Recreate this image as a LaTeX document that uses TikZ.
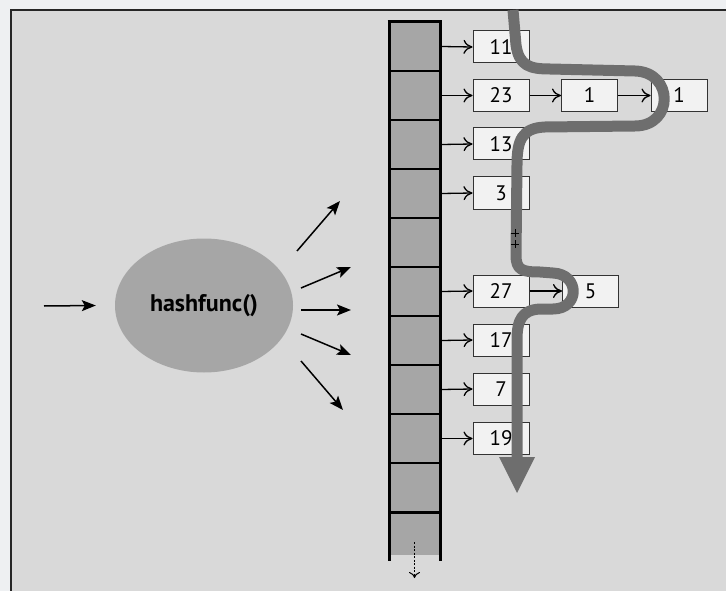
\documentclass[tikz,border=0pt]{standalone}
\usepackage{fontspec}
\setmainfont{PT Sans}
\usetikzlibrary{arrows.meta,shapes.geometric}
\definecolor{outerbg}{HTML}{EEF0F2}
\definecolor{panel}{HTML}{D9D9D9}
\definecolor{cellgray}{HTML}{A6A6A6}
\definecolor{boxfill}{HTML}{F2F2F2}
\definecolor{pathgray}{HTML}{6E6E6E}
\begin{document}
\begin{tikzpicture}[x=1pt,y=-1pt,
  cell/.style={rectangle,fill=cellgray,draw=black,line width=1.5pt,minimum width=51pt,minimum height=49pt,inner sep=0pt},
  lastcell/.style={rectangle,fill=cellgray,minimum width=51pt,minimum height=43pt,inner sep=0pt},
  keybox/.style={rectangle,fill=boxfill,draw=black!80,line width=1pt,minimum width=56pt,minimum height=32pt,inner sep=0pt,font=\fontsize{21}{25}\selectfont},
  ptr/.style={line width=1.3pt,-{To[length=9pt,width=14pt,line width=1.3pt]}},
  fan/.style={line width=1.5pt,-{Stealth[length=14pt,width=11pt,inset=3pt]}},
  wall/.style={line width=3pt,black}
]
\useasboundingbox (0,0) rectangle (726,591);
\fill[outerbg] (0,0) rectangle (726,591);
\fill[panel] (11,10) rectangle (726,591);
\draw[line width=2pt,black!85] (11,591) -- (11,10) -- (726,10);

% array cells
\foreach \i/\y in {1/46.5,2/95.5,3/144.5,4/193.5,5/242.5,6/291.5,7/340.5,8/389.5,9/438.5,10/487.5}
  \node[cell] (c\i) at (414.5,\y) {};
\node[lastcell] (c11) at (414.5,533.5) {};
\draw[line width=1.5pt] (c10.south west) -- (c10.south east);
\draw[wall] (389,22) -- (389,561);
\draw[wall] (440,22) -- (440,561);
\draw[wall] (387.5,22) -- (441.5,22);
\coordinate (dstart) at (414.5,542);
\coordinate (dend) at (414.5,578);
\draw[line width=1pt,dashed,dash pattern=on 2pt off 1.5pt,-{To[length=6pt,width=11pt]}] (dstart) -- (dend);

% key boxes
\node[keybox] (b1) at (501,47) {11};
\node[keybox] (b2) at (501,95.5) {23};
\node[keybox] (b2a) at (589.5,95.5) {1};
\node[keybox] (b2b) at (679,95.5) {1};
\node[keybox] (b3) at (501,144) {13};
\node[keybox] (b4) at (501,193) {3};
\node[keybox] (b6) at (501,291) {27};
\node[keybox] (b6a) at (590.5,291) {5};
\node[keybox] (b7) at (501,340) {17};
\node[keybox] (b8) at (501,389) {7};
\node[keybox] (b9) at (501,438.5) {19};

\foreach \c/\b in {c1/b1,c2/b2,c3/b3,c4/b4,c6/b6,c7/b7,c8/b8,c9/b9}
  \draw[ptr] ([xshift=0.8pt]\c.east) -- (\b.west);
\draw[ptr] (b2.east) -- (b2a.west);
\draw[ptr] (b2a.east) -- (b2b.west);
\draw[ptr] (b6.east) -- (b6a.west);

% hash function
\node[ellipse,fill=cellgray,minimum width=178pt,minimum height=134pt,inner sep=0pt,font=\bfseries\fontsize{24}{28}\selectfont] (hf) at (204,305.5) {hashfunc()};
\coordinate (in) at (44,306);
\draw[fan] (in) -- ([xshift=-19pt]hf.west);
\coordinate (f1s) at (297,251); \coordinate (f1e) at (340,201);
\coordinate (f2s) at (301,288); \coordinate (f2e) at (351,267);
\coordinate (f3s) at (301,310); \coordinate (f3e) at (351,310);
\coordinate (f4s) at (301,334); \coordinate (f4e) at (351,355);
\coordinate (f5s) at (301,361); \coordinate (f5e) at (343,410);
\foreach \k in {1,...,5} \draw[fan] (f\k s) -- (f\k e);

% traversal path
\draw[pathgray,line width=11pt,line join=round] (513,10) -- (516,45)
  .. controls (519,66) and (530,69) .. (550,69)
  -- (635,71)
  .. controls (674,72) and (674,126) .. (635,126)
  -- (545,127)
  .. controls (522,128) and (517,140) .. (517,165)
  -- (516,255)
  .. controls (516,270) and (522,272) .. (540,272)
  -- (553,273)
  .. controls (580,274) and (580,309) .. (553,309)
  -- (540,309)
  .. controls (522,310) and (517,320) .. (517,340)
  -- (517,460);
\fill[pathgray] (499,457) -- (535,457) -- (517,493) -- cycle;
\draw[line width=0.8pt] (511,233) -- (519,233) (515,229) -- (515,237);
\draw[line width=0.8pt] (511,244) -- (519,244) (515,240) -- (515,248);
\end{tikzpicture}
\end{document}
